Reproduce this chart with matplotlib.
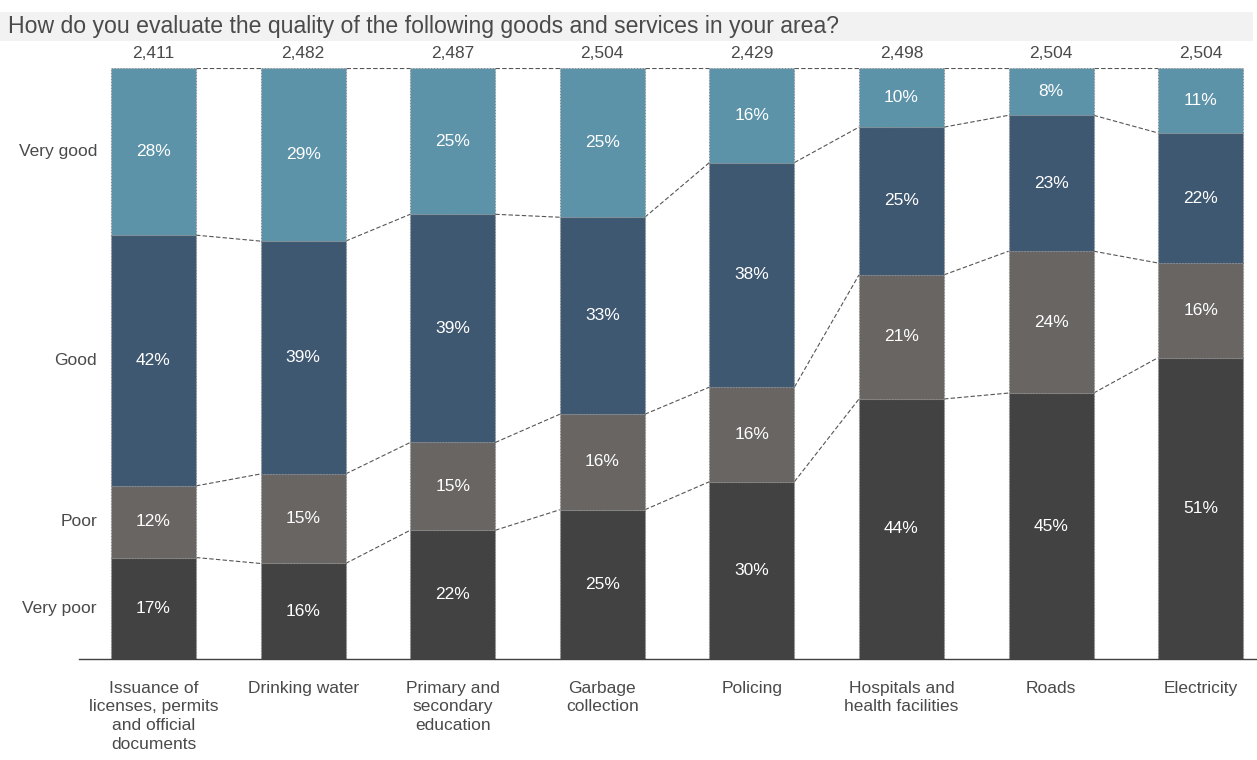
import matplotlib
matplotlib.use("Agg")
import matplotlib.pyplot as plt
from matplotlib.patches import Rectangle
import numpy as np

plt.rcParams['font.family'] = ['Liberation Sans', 'DejaVu Sans']

categories = ["Issuance of\nlicenses, permits\nand official\ndocuments", "Drinking water",
              "Primary and\nsecondary\neducation", "Garbage\ncollection", "Policing",
              "Hospitals and\nhealth facilities", "Roads", "Electricity"]
totals = ["2,411", "2,482", "2,487", "2,504", "2,429", "2,498", "2,504", "2,504"]
very_poor = [17, 16, 22, 25, 30, 44, 45, 51]
poor = [12, 15, 15, 16, 16, 21, 24, 16]
good = [42, 39, 39, 33, 38, 25, 23, 22]
very_good = [28, 29, 25, 25, 16, 10, 8, 11]
levels = ["Very poor", "Poor", "Good", "Very good"]
colors = ["#424242", "#696563", "#3F5871", "#5C93A9"]

W, H = 1257, 760
fig = plt.figure(figsize=(W / 100, H / 100), dpi=100)
ax = fig.add_axes([79 / W, 1 - 659 / H, (W - 79) / W, (659 - 68) / H])

series = np.array([very_poor, poor, good, very_good], dtype=float)
norm = series / series.sum(axis=0) * 100
cum = np.cumsum(norm, axis=0)
bottoms = cum - norm
x = np.arange(len(categories))
bw = 0.568
fs = 12.5
tc = "#4a4a4a"

for k in range(4):
    ax.bar(x, norm[k], bw, bottom=bottoms[k], color=colors[k],
           edgecolor="#8a8a8a", linewidth=0.8, linestyle=":", zorder=2)
    for i in range(len(x)):
        ax.text(x[i], bottoms[k][i] + norm[k][i] / 2, f"{int(series[k][i])}%",
                ha="center", va="center", color="white", fontsize=fs, zorder=3)

# connectors
for k in range(4):
    for i in range(len(x) - 1):
        ax.plot([x[i] + bw / 2, x[i + 1] - bw / 2], [cum[k][i], cum[k][i + 1]],
                color="#555555", lw=0.8, ls=(0, (4, 2)), zorder=1)

for i in range(len(x)):
    ax.text(x[i], 102.4, totals[i], ha="center", va="center", color=tc, fontsize=fs)

ax.set_xlim((79 - 153.5) / 149.6, (1257 - 153.5) / 149.6)
ax.set_ylim(0, 100)
for s in ["top", "right", "left"]:
    ax.spines[s].set_visible(False)
ax.spines["bottom"].set_color("#404040")
ax.spines["bottom"].set_linewidth(1.0)
ax.set_yticks([])
ax.set_xticks([])

# y-axis level labels at first bar's segment centers
for k in range(4):
    ax.text((97 - 153.5) / 149.6, bottoms[k][0] + norm[k][0] / 2, levels[k],
            ha="right", va="center", color=tc, fontsize=fs)

for i in range(len(x)):
    ax.text(x[i], -3.7, categories[i], ha="center", va="top", color=tc,
            fontsize=fs, linespacing=1.3)

# title band
fig.patches.append(Rectangle((0, 1 - 41 / H), 1253 / W, 29 / H, transform=fig.transFigure,
                             facecolor="#F2F2F2", edgecolor="none", zorder=0))
fig.text(8 / W, 1 - 27 / H, "How do you evaluate the quality of the following goods and services in your area?",
         ha="left", va="center", fontsize=16.6, color=tc)

fig.savefig("out.png", dpi=100)
